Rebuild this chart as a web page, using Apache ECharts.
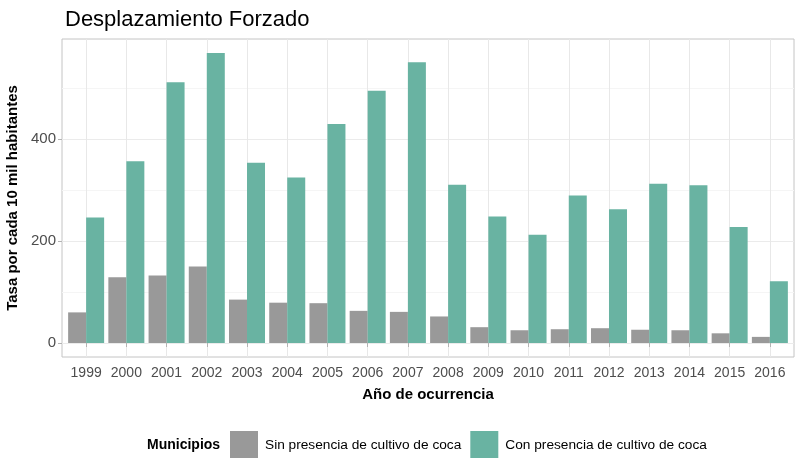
<!DOCTYPE html>
<html>
<head>
<meta charset="utf-8">
<script src="https://cdn.jsdelivr.net/npm/echarts@6/dist/echarts.min.js"></script>
<style>
  html, body { margin: 0; padding: 0; background: #fff; }
  #chart { width: 801px; height: 458px; }
</style>
</head>
<body>
<div id="chart"></div>
<script>
// datos
const years = [1999, 2000, 2001, 2002, 2003, 2004, 2005, 2006, 2007, 2008, 2009, 2010, 2011, 2012, 2013, 2014, 2015, 2016];
const sinCoca = [60, 129, 132, 150, 85, 79, 78, 63, 61, 52, 31, 25, 27, 29, 26, 25, 19, 12];
const conCoca = [246, 356, 511, 568, 353, 324, 429, 494, 550, 310, 248, 212, 289, 262, 312, 309, 227, 121];
const majorTicksY = [0, 200, 400];
const minorTicksY = [100, 300, 500];

const font = 'Liberation Sans, Arial, sans-serif';
const chart = echarts.init(document.getElementById('chart'), null, { renderer: 'canvas' });

const pairs = (vals) => vals.map((v, i) => [years[i], v]);

chart.setOption({
  animation: false,
  backgroundColor: '#ffffff',
  textStyle: { fontFamily: font },
  title: [
    {
      text: 'Desplazamiento Forzado',
      left: 60, top: 4,
      textStyle: { fontSize: 22, fontWeight: 'normal', color: '#000', fontFamily: font }
    },
    {
      text: 'Municipios',
      left: 147, top: 438, padding: 0,
      textStyle: { fontSize: 14, fontWeight: 'bold', color: '#000', fontFamily: font }
    }
  ],
  legend: {
    left: 230, top: 431, padding: 0,
    itemWidth: 28, itemHeight: 28, itemGap: 9,
    icon: 'rect',
    textStyle: { fontSize: 13.7, color: '#000', fontFamily: font, padding: [0, 0, 0, 2] },
    data: ['Sin presencia de cultivo de coca', 'Con presencia de cultivo de coca']
  },
  grid: {
    left: 62, right: 7, top: 39, bottom: 101,
    outerBoundsMode: 'none',
    containLabel: false,
    show: true, borderColor: '#c4c4c4', borderWidth: 1
  },
  xAxis: {
    type: 'value',
    min: 1998.4, max: 2016.6,
    name: 'Año de ocurrencia',
    nameLocation: 'middle', nameGap: 30,
    nameTextStyle: { fontSize: 15, fontWeight: 'bold', color: '#000', fontFamily: font },
    axisLine: { show: false },
    axisTick: { show: true, length: 4, customValues: years, lineStyle: { color: '#b3b3b3' } },
    axisLabel: {
      customValues: years, color: '#4d4d4d', fontSize: 14, margin: 9, fontFamily: font,
      formatter: (v) => String(v)
    },
    splitLine: { show: true, lineStyle: { color: '#e8e8e8', width: 1 } }
  },
  yAxis: [
    {
      type: 'value',
      min: -27.4, max: 595.5,
      name: 'Tasa por cada 10 mil habitantes',
      nameLocation: 'middle', nameGap: 38,
      nameTextStyle: { fontSize: 15, fontWeight: 'bold', color: '#000', fontFamily: font },
      axisLine: { show: false },
      axisTick: { show: true, length: 4, customValues: majorTicksY, lineStyle: { color: '#b3b3b3' } },
      axisLabel: { customValues: majorTicksY, color: '#4d4d4d', fontSize: 15, margin: 6, fontFamily: font },
      splitLine: { show: true, lineStyle: { color: '#ebebeb', width: 1 } }
    },
    {
      type: 'value',
      min: -27.4, max: 595.5,
      position: 'left',
      axisLine: { show: false },
      axisTick: { show: false, customValues: minorTicksY },
      axisLabel: { show: false, customValues: minorTicksY },
      splitLine: { show: true, lineStyle: { color: '#f5f5f5', width: 1 } }
    }
  ],
  series: [
    {
      name: 'Sin presencia de cultivo de coca',
      type: 'bar',
      yAxisIndex: 0,
      barWidth: 18, barGap: '0%',
      itemStyle: { color: '#999999' },
      data: pairs(sinCoca)
    },
    {
      name: 'Con presencia de cultivo de coca',
      type: 'bar',
      yAxisIndex: 0,
      barWidth: 18, barGap: '0%',
      itemStyle: { color: '#69b3a2' },
      data: pairs(conCoca)
    }
  ]
});
</script>
</body>
</html>
